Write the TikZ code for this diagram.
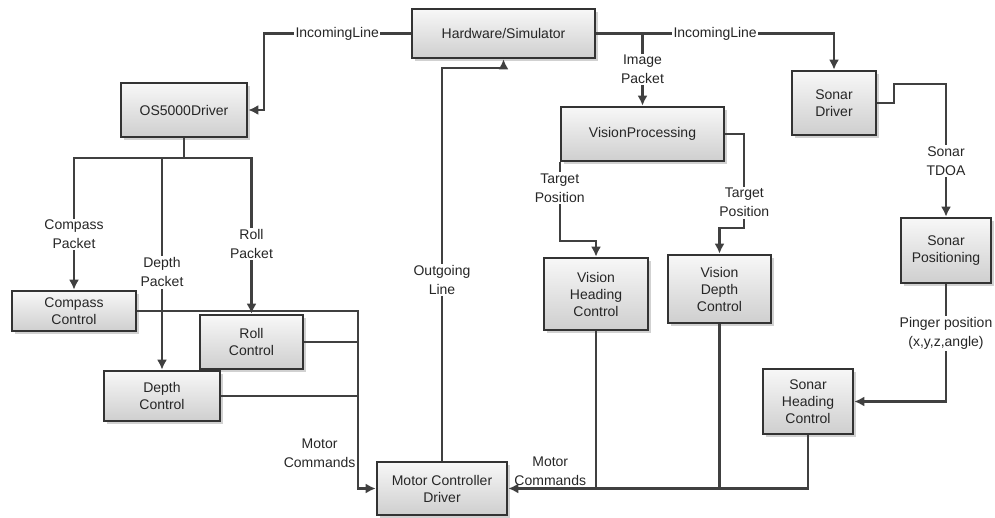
\documentclass[tikz,border=0pt]{standalone}
\usepackage{tikz}
\usepackage{xcolor}
\usepackage{fontspec}
\setmainfont{Liberation Sans}
\usetikzlibrary{calc,
	positioning,
	shadows,
	arrows.meta}
\definecolor{edge}{HTML}{404040}
\definecolor{rim}{HTML}{333333}
\tikzstyle{blk}=[draw=rim, line width=2.6pt, top color=gray!6, bottom color=gray!38,
		drop shadow={shadow xshift=3pt, shadow yshift=-3pt, fill=black!30, opacity=0.6},
		inner sep=0, align=center, text=black!85, font=\fontsize{14}{17}\selectfont]
\tikzstyle{wire}=[draw=edge, line width=2.2pt]
\tikzstyle{lnk}=[wire, -{Latex[length=10pt, width=10pt]}]
\tikzstyle{lbl}=[fill=white, inner sep=1.5pt, align=center, text=black!85,
		font=\fontsize{14}{19}\selectfont]
\tikzstyle{side}=[inner sep=1.5pt, align=center, text=black!85,
		font=\fontsize{14}{19}\selectfont]

\begin{document}
\begin{tikzpicture}[x=1pt, y=-1pt]
                \useasboundingbox (0,0) rectangle (995,518);
                % blocks
                \node[blk, minimum width=183, minimum height=49] (hw) at (503.5,33.5) {Hardware/Simulator};
                \node[blk, minimum width=126, minimum height=54] (os) at (184,110) {OS5000Driver};
                \node[blk, minimum width=163, minimum height=54] (vp) at (642.5,134) {VisionProcessing};
                \node[blk, minimum width=84, minimum height=64] (sd) at (834,103) {Sonar\\Driver};
                \node[blk, minimum width=90, minimum height=65] (sp) at (946,250.5) {Sonar\\Positioning};
                \node[blk, minimum width=124, minimum height=40] (cc) at (74,311) {Compass\\Control};
                \node[blk, minimum width=103, minimum height=54] (rc) at (251.5,342) {Roll\\Control};
                \node[blk, minimum width=116, minimum height=50] (dc) at (162,396) {Depth\\Control};
                \node[blk, minimum width=130, minimum height=53] (mcd) at (442,488.5) {Motor Controller\\Driver};
                \node[blk, minimum width=104, minimum height=72] (vh) at (596,294) {Vision\\Heading\\Control};
                \node[blk, minimum width=103, minimum height=68] (vd) at (719.5,289) {Vision\\Depth\\Control};
                \node[blk, minimum width=90, minimum height=65] (sh) at (808,401.5) {Sonar\\Heading\\Control};
                \coordinate (lbus) at (358,0);
                % incoming lines
                \draw[lnk] (hw.west) -- node[lbl]{IncomingLine} ++(-147,0) |- (os.east);
                \draw[lnk] (hw.east) -| node[lbl, pos=0.25]{IncomingLine} (sd.north);
                \draw[lnk] (hw.east) -| node[lbl, pos=0.75]{Image\\Packet} (vp.north);
                \draw[lnk] (mcd.north) |- node[lbl, pos=0.23]{Outgoing\\Line} ($(hw.south)+(0,9)$) -- (hw.south);
                % compass packets
                \draw[lnk] (os.south) -- ++(0,20) -| node[lbl, pos=0.79]{Compass\\Packet} (cc.north);
                \draw[lnk] (os.south) -- ++(0,20) -| node[lbl, pos=0.77]{Depth\\Packet} (dc.north);
                \draw[lnk] (os.south) -- ++(0,20) -| node[lbl, pos=0.775]{Roll\\Packet} (rc.north);
                % motor commands, left
                \draw[wire] (rc.east) -- (rc.east -| lbus);
                \draw[wire] (dc.east) -- (dc.east -| lbus);
                \draw[lnk] (cc.east) -- (cc.east -| lbus) |- node[side, pos=0.4, left]{Motor\\Commands} (mcd.west);
                % vision
                \draw[lnk] (vp.south west) -- node[lbl, pos=0.33]{Target\\Position} ++(0,79) -| (vh.north);
                \draw[lnk] (vp.east) -- ++(19,0) -- node[lbl, pos=0.73]{Target\\Position} ++(0,94) -| (vd.north);
                % sonar
                \draw[lnk] (sd.east) -- ++(17,0) -- ++(0,-19) -| node[lbl, pos=0.79]{Sonar\\TDOA} (sp.north);
                \draw[lnk] (sp.south) |- node[lbl, pos=0.21]{Pinger position\\(x,y,z,angle)} (sh.east);
                % motor commands, right
                \draw[wire] (vh.south) -- (vh.south |- mcd.east);
                \draw[wire] (vd.south) -- (vd.south |- mcd.east);
                \draw[lnk] (sh.south) |- node[side, pos=0.93, above]{Motor\\Commands} (mcd.east);
\end{tikzpicture}
\end{document}
